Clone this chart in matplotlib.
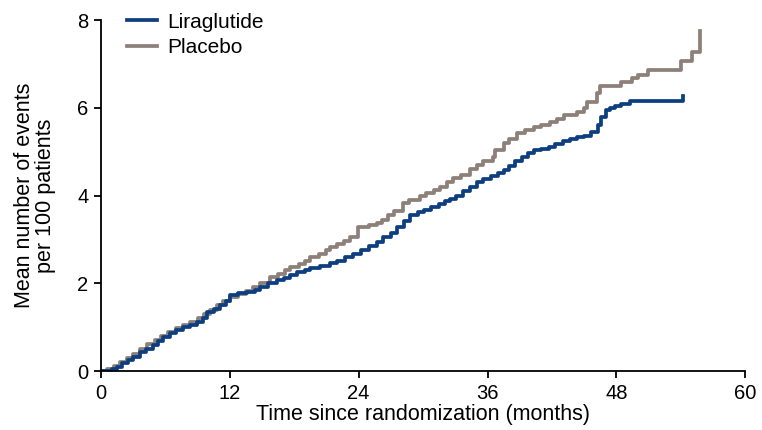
import matplotlib
matplotlib.use("Agg")
import matplotlib.pyplot as plt

plt.rcParams['font.family'] = ['Liberation Sans', 'DejaVu Sans']

# ---- data (months, mean events per 100 patients) ----
lira_t = [0, 1.0, 1.5, 2.0, 2.5, 3.0, 3.6, 4.2, 4.8, 5.3,
          5.8, 6.4, 7.0, 7.6, 8.3, 8.9, 9.5, 9.9, 10.5, 11.1,
          11.6, 12.0, 12.8, 13.6, 14.3, 14.8, 15.6, 16.4, 17.0, 17.6,
          18.3, 19.0, 19.5, 20.4, 21.3, 22.0, 22.7, 23.5, 24.2, 25.0,
          25.7, 26.3, 27.0, 27.6, 28.2, 28.8, 29.5, 30.1, 30.7, 31.5,
          32.0, 32.5, 33.1, 33.7, 34.4, 35.0, 35.6, 36.3, 37.0, 37.5,
          38.0, 38.6, 39.2, 39.8, 40.3, 41.0, 41.7, 42.3, 43.0, 43.7,
          44.3, 45.0, 45.6, 46.3, 46.6, 47.0, 47.4, 47.9, 48.4, 49.3,
          54.2]
lira_v = [0, 0.05, 0.10, 0.18, 0.25, 0.33, 0.43, 0.50, 0.60, 0.68,
          0.77, 0.86, 0.93, 1.00, 1.06, 1.12, 1.22, 1.34, 1.42, 1.50,
          1.60, 1.73, 1.77, 1.80, 1.86, 1.92, 2.00, 2.07, 2.13, 2.20,
          2.25, 2.30, 2.35, 2.40, 2.46, 2.52, 2.60, 2.68, 2.75, 2.85,
          2.95, 3.05, 3.15, 3.28, 3.42, 3.55, 3.62, 3.68, 3.74, 3.80,
          3.87, 3.92, 4.00, 4.10, 4.20, 4.30, 4.37, 4.45, 4.52, 4.58,
          4.68, 4.78, 4.88, 4.98, 5.03, 5.07, 5.10, 5.17, 5.25, 5.30,
          5.33, 5.37, 5.44, 5.60, 5.80, 5.95, 6.00, 6.05, 6.10, 6.15,
          6.27]

plac_t = [0, 0.6, 1.2, 1.8, 2.4, 3.0, 3.6, 4.3, 5.0, 5.6,
          6.2, 7.0, 7.6, 8.3, 9.0, 9.6, 10.2, 10.8, 11.4, 12.0,
          12.8, 13.5, 14.2, 14.8, 15.7, 16.5, 17.1, 17.6, 18.4, 19.0,
          19.5, 20.3, 21.0, 21.3, 22.0, 22.6, 23.2, 23.9, 25.0, 25.7,
          26.2, 26.7, 27.3, 28.1, 28.7, 29.7, 30.3, 31.0, 31.6, 32.2,
          32.8, 33.5, 34.4, 35.0, 35.6, 36.5, 36.7, 37.5, 38.0, 38.7,
          39.5, 40.3, 41.0, 41.8, 42.5, 43.1, 44.3, 45.0, 45.3, 46.2,
          46.5, 48.4, 49.5, 50.0, 50.9, 54.0, 55.0, 55.8]
plac_v = [0, 0.05, 0.12, 0.20, 0.30, 0.40, 0.50, 0.62, 0.70, 0.80,
          0.90, 0.98, 1.05, 1.12, 1.20, 1.30, 1.40, 1.50, 1.60, 1.70,
          1.75, 1.82, 1.92, 2.00, 2.14, 2.22, 2.30, 2.37, 2.45, 2.52,
          2.60, 2.68, 2.75, 2.82, 2.90, 2.97, 3.05, 3.28, 3.32, 3.37,
          3.45, 3.55, 3.65, 3.83, 3.90, 4.00, 4.06, 4.12, 4.19, 4.30,
          4.40, 4.46, 4.60, 4.70, 4.78, 4.87, 5.05, 5.20, 5.30, 5.42,
          5.50, 5.56, 5.60, 5.67, 5.75, 5.83, 5.90, 6.00, 6.13, 6.33,
          6.50, 6.58, 6.68, 6.74, 6.86, 7.08, 7.28, 7.75]

x_ticks = [0, 12, 24, 36, 48, 60]
y_ticks = [0, 2, 4, 6, 8]

# ---- plot ----
fig = plt.figure(figsize=(7.62, 4.30), dpi=100)
ax = fig.add_axes([0.1325, 0.137, 0.8455, 0.816])

ax.plot(plac_t, plac_v, drawstyle='steps-post', color='#8c8079', lw=2.7,
        label='Placebo')
ax.plot(lira_t, lira_v, drawstyle='steps-post', color='#0d3f80', lw=2.7,
        label='Liraglutide')

ax.set_xlim(0, 60)
ax.set_ylim(0, 8)
ax.set_xticks(x_ticks)
ax.set_yticks(y_ticks)
ax.tick_params(labelsize=14.5, length=5, width=1.3, direction='out', pad=4)
for s in ['top', 'right']:
    ax.spines[s].set_visible(False)
for s in ['left', 'bottom']:
    ax.spines[s].set_linewidth(1.3)

ax.set_xlabel('Time since randomization (months)', fontsize=15.5, labelpad=1)
ax.set_ylabel('Mean number of events\nper 100 patients', fontsize=15.5,
              labelpad=15, linespacing=1.05)

h, l = ax.get_legend_handles_labels()
ax.legend(h[::-1], l[::-1], loc='upper left', bbox_to_anchor=(0.011, 1.075),
          frameon=False, fontsize=15, handlelength=1.45, labelspacing=0.32,
          handletextpad=0.5)

fig.savefig('out.png', dpi=100)
